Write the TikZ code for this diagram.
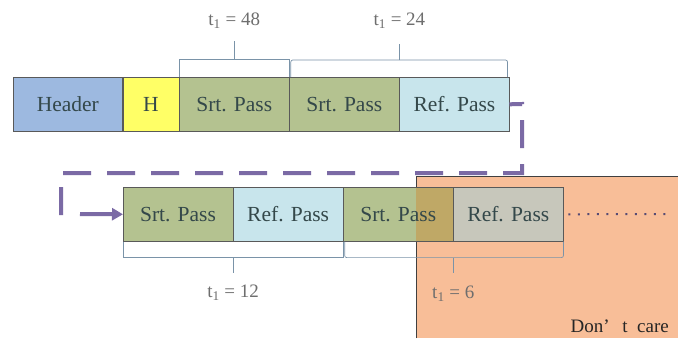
\documentclass[tikz,border=0pt]{standalone}
\usepackage{fontspec}
\setmainfont{Liberation Serif}
\usetikzlibrary{arrows.meta,calc}
\definecolor{hdr}{HTML}{9DB9E0}
\definecolor{hy}{HTML}{FFFF66}
\definecolor{srt}{HTML}{B4C290}
\definecolor{refc}{HTML}{C8E5EC}
\definecolor{dcbg}{HTML}{F8BE98}
\definecolor{ovS}{HTML}{BFA866}
\definecolor{ovR}{HTML}{C7C7BB}
\definecolor{txt}{HTML}{34484A}
\definecolor{brk}{HTML}{7A93A8}
\definecolor{pur}{HTML}{7B6AA5}
\definecolor{lblc}{HTML}{6E6E6E}
\begin{document}
\begin{tikzpicture}[x=1pt,y=-1pt,
  pbox/.style={draw=black!65, line width=0.6pt, minimum height=54pt,
    minimum width=109.5pt, inner sep=0pt, anchor=west,
    font=\fontsize{21.5}{21.5}\selectfont, text=txt},
  srtbox/.style={pbox, fill=srt},
  refbox/.style={pbox, fill=refc},
  srtboxo/.style={srtbox, path picture={\fill[ovS]
      (dcorner |- path picture bounding box.north) rectangle
      (path picture bounding box.south east);}},
  refboxo/.style={refbox, path picture={\fill[ovR]
      (dcorner |- path picture bounding box.north) rectangle
      (path picture bounding box.south east);}},
  brkl/.style={draw=brk, line width=0.7pt},
  lbl/.style={font=\fontsize{19}{19}\selectfont, text=lblc, inner sep=0pt},
  dsh/.style={draw=pur, line width=4pt, dash pattern=on 28pt off 16pt},
  arr/.style={draw=pur, line width=4pt, -{Triangle[length=11pt,width=12pt]}},
  dotl/.style={draw=pur!70!black, line width=2pt, dash pattern=on 2pt off 7.5pt}
]
\useasboundingbox (0,0) rectangle (678,338);
\fill[white] (0,0) rectangle (678,338);

% don't care region
\coordinate (dcorner) at (416,176);
\node[fill=dcbg, anchor=north west, minimum width=262pt, minimum height=162pt,
  inner sep=0pt] (dc) at (dcorner) {};
\draw[black!75, line width=0.8pt] (dc.south west) -- (dc.north west) -- (dc.north east);
\node[font=\fontsize{19}{19}\selectfont, text=black!85, anchor=base east, inner sep=0pt]
  (dct) at (669,332) {Don’\, \ t \ care};

% top row
\node[pbox, fill=hdr, anchor=north west, minimum width=109pt] (t1) at (13,77) {Header};
\node[pbox, fill=hy, minimum width=56pt] (t2) at (t1.east) {H};
\node[srtbox] (t3) at (t2.east) {Srt. Pass};
\node[srtbox] (t4) at (t3.east) {Srt. Pass};
\node[refbox] (t5) at (t4.east) {Ref. Pass};

% bottom row
\node[srtboxo, anchor=north west] (b1) at (123,187) {Srt. Pass};
\node[refboxo] (b2) at (b1.east) {Ref. Pass};
\node[srtboxo] (b3) at (b2.east) {Srt. Pass};
\node[refboxo] (b4) at (b3.east) {Ref. Pass};

% top brackets
\draw[brkl] (t3.north west) -- ++(0,-18) -| (t4.north west);
\draw[brkl] ($(t3.north west)!0.5!(t4.north west)+(0,-18)$) -- ++(0,-18);
\node[lbl] (l1) at ($(t3.north west)!0.5!(t4.north west)+(0,-56)$) {t\textsubscript{1} = 48};
\draw[brkl, rounded corners=2pt] ([xshift=1.5pt]t4.north west) -- ++(0,-17) -| ([xshift=-2pt]t5.north east);
\draw[brkl] ($(t4.north west)!0.5!(t5.north east)+(0,-17)$) -- ++(0,-16);
\node[lbl] (l2) at ($(t4.north west)!0.5!(t5.north east)+(0,-56)$) {t\textsubscript{1} = 24};

% bottom brackets
\draw[brkl] (b1.south west) -- ++(0,16) -| (b2.south east);
\draw[brkl] ($(b1.south west)!0.5!(b2.south east)+(0,16)$) -- ++(0,15);
\node[lbl] (l3) at ($(b1.south west)!0.5!(b2.south east)+(0,51)$) {t\textsubscript{1} = 12};
\draw[brkl, rounded corners=2pt] ([xshift=1.5pt]b3.south west) -- ++(0,16) -| (b4.south east);
\draw[brkl] ($(b3.south west)!0.5!(b4.south east)+(0,16)$) -- ++(0,15);
\node[lbl] (l4) at ($(b3.south west)!0.5!(b4.south east)+(0,52)$) {t\textsubscript{1} = 6};

% dashed return path
\coordinate (p1) at (522,104);
\coordinate (p2) at (522,173);
\coordinate (p3) at (61,173);
\coordinate (p4) at (61,215);
\coordinate (p5) at (80,214);
\draw[dsh] (p4) -- (p3) -- (p2) -- (p1) -- (t5.east);
\draw[arr] (p5) -- (b1.west);

% continuation dots
\coordinate (dotend) at (671,214);
\draw[dotl] ([xshift=5pt]b4.east) -- (dotend);
\end{tikzpicture}
\end{document}
